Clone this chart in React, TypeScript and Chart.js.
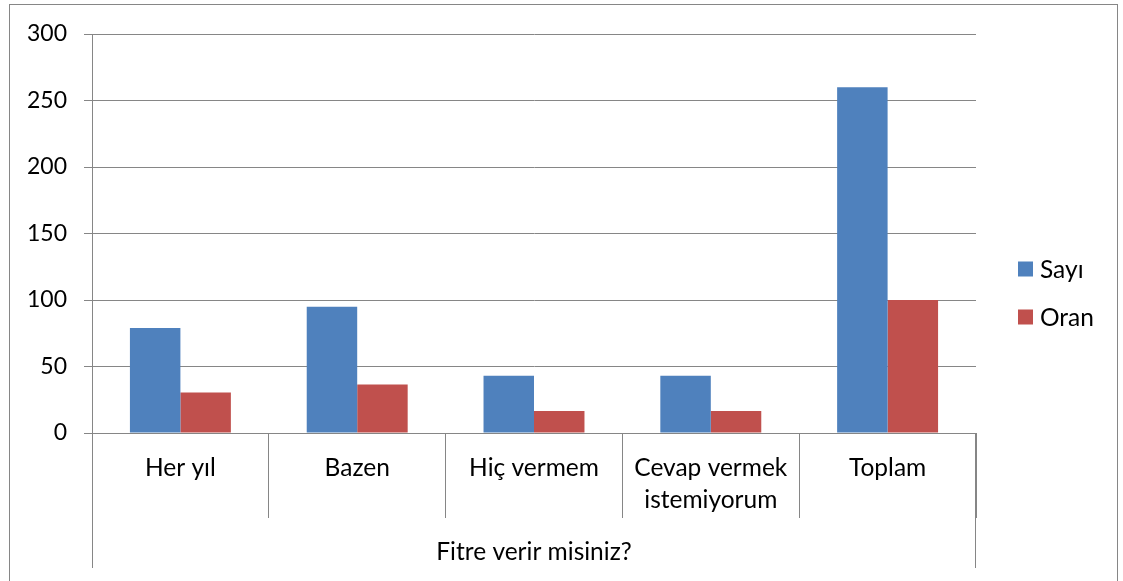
import React, { useEffect, useRef } from 'react';
import { Chart, registerables } from 'chart.js';

Chart.register(...registerables);

const categories: string[][] = [['Her yıl'], ['Bazen'], ['Hiç vermem'], ['Cevap vermek', 'istemiyorum'], ['Toplam']];
const seriesNames = ['Sayı', 'Oran'];
const sayiValues = [79, 95, 43, 43, 260];
const oranValues = [30.4, 36.5, 16.5, 16.5, 100];
const yMin = 0;
const yMax = 300;
const yStep = 50;
const groupTitle = 'Fitre verir misiniz?';

const FONT = 'Lato, "Open Sans", sans-serif';
const GRID = '#868686';
const colors = ['#4F81BD', '#C0504D'];

const decorPlugin = {
  id: 'decor',
  beforeDraw(chart: any) {
    const ctx = chart.ctx;
    ctx.save();
    ctx.fillStyle = '#ffffff';
    ctx.fillRect(0, 0, chart.width, chart.height);
    ctx.strokeStyle = GRID;
    ctx.lineWidth = 1;
    ctx.strokeRect(9.5, 4.5, 1108, chart.height + 20);
    ctx.restore();
  },
  afterDraw(chart: any) {
    const ctx = chart.ctx;
    const area = chart.chartArea;
    ctx.save();
    ctx.strokeStyle = GRID;
    ctx.lineWidth = 1;
    ctx.beginPath();
    const l = Math.round(area.left) + 0.5;
    const r = Math.round(area.right) - 0.5;
    ctx.moveTo(l, area.bottom);
    ctx.lineTo(l, area.bottom + 135);
    ctx.moveTo(r, area.bottom);
    ctx.lineTo(r, area.bottom + 135);
    ctx.stroke();
    ctx.fillStyle = '#000';
    ctx.font = `24.5px ${FONT}`;
    ctx.textAlign = 'center';
    ctx.textBaseline = 'middle';
    ctx.fillText(groupTitle, (area.left + area.right) / 2, area.bottom + 119);
    ctx.textAlign = 'left';
    chart.data.datasets.forEach((ds: any, i: number) => {
      const cy = 269 + i * 48;
      ctx.fillStyle = ds.backgroundColor;
      ctx.fillRect(area.right + 42, cy - 7.5, 15, 15);
      ctx.fillStyle = '#000';
      ctx.fillText(ds.label, area.right + 64, cy + 1);
    });
    ctx.restore();
  },
};

export default function App() {
  const ref = useRef<HTMLCanvasElement>(null);
  useEffect(() => {
    if (!ref.current) return;
    const chart = new Chart(ref.current, {
      type: 'bar',
      data: {
        labels: categories,
        datasets: [
          { label: seriesNames[0], data: sayiValues, backgroundColor: colors[0], categoryPercentage: 0.571, barPercentage: 1 },
          { label: seriesNames[1], data: oranValues, backgroundColor: colors[1], categoryPercentage: 0.571, barPercentage: 1 },
        ],
      },
      options: {
        responsive: false,
        animation: false,
        layout: { padding: { top: 34, right: 147, bottom: 0, left: 0 } },
        plugins: { legend: { display: false }, tooltip: { enabled: false } },
        scales: {
          x: {
            type: 'category',
            offset: true,
            grid: { offset: true, drawOnChartArea: false, drawTicks: true, tickLength: 85, color: GRID },
            border: { display: true, color: GRID },
            ticks: {
              autoSkip: false,
              maxRotation: 0,
              color: '#000',
              padding: -66,
              font: { family: FONT, size: 24.5, lineHeight: '32px' },
            },
            afterFit(scale: any) {
              scale.height = 148;
            },
          },
          y: {
            min: yMin,
            max: yMax,
            grid: { color: GRID, tickLength: 8, drawTicks: true },
            border: { display: true, color: GRID },
            ticks: {
              stepSize: yStep,
              color: '#000',
              padding: 17,
              font: { family: FONT, size: 23 },
            },
            afterFit(scale: any) {
              scale.width = 92;
            },
          },
        },
      },
      plugins: [decorPlugin],
    });
    return () => chart.destroy();
  }, []);
  return (
    <div style={{ position: 'fixed', left: 0, top: 0, width: 1123, height: 581, background: '#fff' }}>
      <canvas ref={ref} width={1123} height={581} />
    </div>
  );
}
